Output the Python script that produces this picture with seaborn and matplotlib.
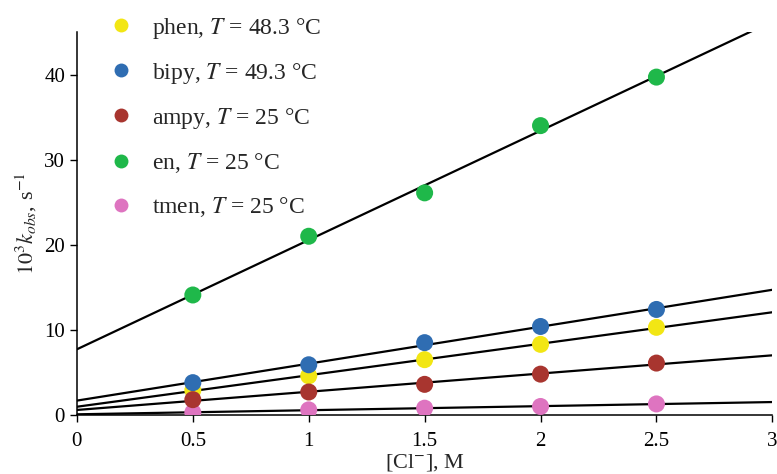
import numpy as np
import pandas as pd
import matplotlib
matplotlib.use('Agg')
import matplotlib.pyplot as plt
from matplotlib.lines import Line2D
import seaborn as sns

# data
conc = [0.5, 1.0, 1.5, 2.0, 2.5]
phen = [2.9, 4.6, 6.5, 8.3, 10.3]
bipy = [3.8, 5.9, 8.5, 10.4, 12.4]
ampy = [1.8, 2.7, 3.6, 4.8, 6.1]
en = [14.1, 21.0, 26.1, 34.0, 39.7]
tmen = [0.3, 0.6, 0.8, 1.0, 1.3]

labels = {
    'phen': r'phen, $T$ = 48.3 °C',
    'bipy': r'bipy, $T$ = 49.3 °C',
    'ampy': r'ampy, $T$ = 25 °C',
    'en': r'en, $T$ = 25 °C',
    'tmen': r'tmen, $T$ = 25 °C',
}
colors = {'phen': '#f2e614', 'bipy': '#2f6db2', 'ampy': '#a8352f',
          'en': '#1fb84a', 'tmen': '#de74c0'}
series = {'phen': phen, 'bipy': bipy, 'ampy': ampy, 'en': en, 'tmen': tmen}

sns.set_theme(style='ticks')
plt.rcParams['font.family'] = ['Liberation Serif', 'DejaVu Serif']
plt.rcParams['mathtext.fontset'] = 'stix'

df = pd.concat([pd.DataFrame({'x': conc, 'y': v, 'ligand': k}) for k, v in series.items()])

fig = plt.figure(figsize=(7.77, 4.74), dpi=100)
ax = fig.add_axes([0.099, 0.1245, 0.895, 0.808])
ax.set_xlim(0, 3)
ax.set_ylim(0, 45)

# linear fits over full x range
for k in ['phen', 'bipy', 'ampy', 'en', 'tmen']:
    sub = df[df['ligand'] == k]
    sns.regplot(data=sub, x='x', y='y', ax=ax, scatter=False, ci=None, truncate=False,
                line_kws={'color': 'black', 'lw': 1.6, 'zorder': 2})

# points (drawing order so overlaps look like the original)
for k in ['tmen', 'phen', 'en', 'bipy', 'ampy']:
    sub = df[df['ligand'] == k]
    sns.scatterplot(data=sub, x='x', y='y', ax=ax, color=colors[k], s=150,
                    edgecolor='none', zorder=3, legend=False)

ax.set_xlim(0, 3)
ax.set_ylim(0, 45)
ax.set_xticks([0, 0.5, 1, 1.5, 2, 2.5, 3])
ax.set_xticklabels(['0', '0.5', '1', '1.5', '2', '2.5', '3'])
ax.set_yticks([0, 10, 20, 30, 40])
ax.tick_params(labelsize=15, length=5, width=1, colors='black')
ax.tick_params(axis='x', pad=7)
for s in ['left', 'bottom']:
    ax.spines[s].set_linewidth(1.1)
    ax.spines[s].set_color('black')
sns.despine(ax=ax)

ax.set_xlabel(r'[Cl$^{-}$], M', fontsize=16, labelpad=1)
ax.set_ylabel(r'$10^3k_{obs}$, s$^{-1}$', fontsize=16, labelpad=4)

handles = [Line2D([], [], ls='none', marker='o', markersize=10, color=colors[k], mec='none')
           for k in ['phen', 'bipy', 'ampy', 'en', 'tmen']]
fig.legend(handles, [labels[k] for k in ['phen', 'bipy', 'ampy', 'en', 'tmen']],
           loc='upper left', bbox_to_anchor=(0.11, 1.012), frameon=False, fontsize=17,
           labelspacing=0.85, handletextpad=0.7, handlelength=1.2)

fig.savefig('out.png', dpi=100)
